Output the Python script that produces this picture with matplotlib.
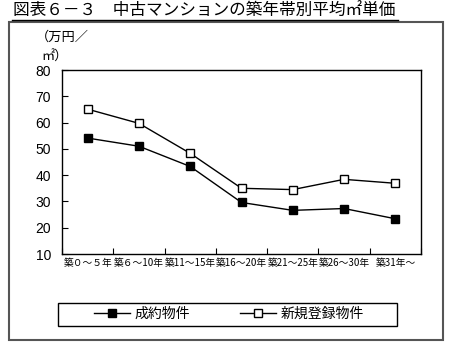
import matplotlib
matplotlib.use('Agg')
import matplotlib.pyplot as plt
import numpy as np
from matplotlib.patches import Rectangle
from matplotlib.lines import Line2D

plt.rcParams['font.family'] = ['Noto Sans CJK JP', 'DejaVu Sans']

# データ
categories = ['築０～５年', '築６～10年', '築11～15年', '築16～20年', '築21～25年', '築26～30年', '築31年～']
seiyaku = [54.1, 51.0, 43.3, 29.6, 26.6, 27.3, 23.4]
shinki = [65.1, 59.7, 48.3, 35.0, 34.5, 38.4, 36.9]

W, H = 450, 347
fig = plt.figure(figsize=(4.5, 3.47), dpi=100)

# 外枠
fig.patches.append(Rectangle((9 / W, 1 - 340 / H), 434 / W, 318 / H, transform=fig.transFigure,
                             fill=False, edgecolor='#555555', linewidth=1.5))

# タイトル (下線付き)
fig.text(13 / W, 1 - 11 / H, '図表６－３　中古マンションの築年帯別平均㎡単価', fontsize=12,
         ha='left', va='center')
fig.add_artist(Line2D([12 / W, 398 / W], [1 - 20 / H, 1 - 20 / H], transform=fig.transFigure,
                      color='black', linewidth=1))

ax = fig.add_axes([62 / W, 1 - 254 / H, 359 / W, 184 / H])
x = np.arange(len(categories))
ax.plot(x, seiyaku, color='black', linewidth=1, marker='s', markersize=5.5,
        markerfacecolor='black', markeredgecolor='black', label='成約物件')
ax.plot(x, shinki, color='black', linewidth=1, marker='s', markersize=5.5,
        markerfacecolor='white', markeredgecolor='black', label='新規登録物件')

ax.set_xlim(-0.5, len(categories) - 0.5)
ax.set_ylim(10, 80)
ax.set_yticks(range(10, 81, 10))
ax.tick_params(axis='y', labelsize=10, length=4, direction='in', pad=8)
for t in ax.get_yticklabels():
    t.set_family('Liberation Sans')
ax.set_xticks(np.arange(len(categories) + 1) - 0.5, minor=False)
ax.set_xticklabels([])
ax.set_xticks(x, minor=True)
ax.set_xticklabels(categories, minor=True, fontsize=7)
ax.tick_params(axis='x', which='major', length=4, direction='in')
ax.tick_params(axis='x', which='minor', length=0, pad=3)
for s in ax.spines.values():
    s.set_linewidth(1)

fig.text(36 / W, 1 - 37 / H, '（万円／', fontsize=9.5, ha='left', va='center')
fig.text(41 / W, 1 - 57 / H, '㎡）', fontsize=9.5, ha='left', va='center')

# 凡例
fig.patches.append(Rectangle((58 / W, 1 - 326 / H), 339 / W, 23 / H, transform=fig.transFigure,
                             fill=False, edgecolor='black', linewidth=1))
leg = fig.legend(loc='center', bbox_to_anchor=(229 / W, 1 - 314 / H), ncol=2, fontsize=10,
                 frameon=False, handlelength=2.6, handletextpad=0.3,
                 columnspacing=3.6, borderpad=0.3)

fig.savefig('out.png', dpi=100)
